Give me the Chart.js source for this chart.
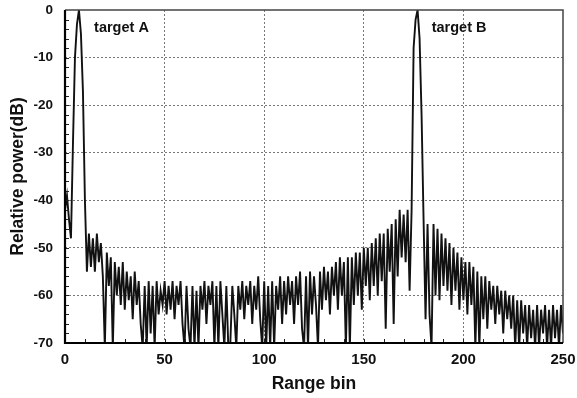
<!DOCTYPE html>
<html>
<head>
<meta charset="utf-8">
<script src="https://cdn.jsdelivr.net/npm/chart.js@4"></script>
<style>
  html, body { margin: 0; padding: 0; background: #fff; }
  #wrap { width: 577px; height: 398px; position: relative; }
</style>
</head>
<body>
<div id="wrap"><canvas id="c" width="577" height="398"></canvas></div>
<script>
// Relative power (dB) per range bin, bins 0..250
const powerDb = [
  -42, -39, -44, -48, -28, -10, -3, 0, -5, -17,
  -40, -55, -47, -54, -48, -55, -47, -53, -49, -56,
  -71, -51, -58, -52, -71, -53, -60, -54, -62, -53,
  -63, -55, -61, -56, -65, -55, -62, -57, -66, -71,
  -58, -71, -57, -68, -58, -71, -57, -64, -59, -62,
  -57, -64, -58, -63, -57, -65, -58, -62, -57, -66,
  -71, -58, -67, -71, -58, -71, -59, -71, -58, -63,
  -57, -66, -58, -62, -57, -71, -58, -71, -57, -64,
  -71, -58, -71, -70, -58, -64, -71, -58, -63, -57,
  -65, -58, -62, -57, -66, -58, -63, -56, -65, -71,
  -57, -71, -58, -71, -57, -71, -58, -63, -56, -66,
  -57, -64, -56, -62, -57, -66, -56, -62, -55, -67,
  -71, -56, -71, -55, -64, -56, -62, -71, -55, -63,
  -54, -61, -55, -64, -54, -60, -53, -63, -52, -60,
  -53, -71, -52, -71, -52, -62, -51, -60, -51, -63,
  -50, -58, -50, -61, -49, -58, -48, -60, -47, -57,
  -47, -67, -46, -55, -45, -66, -44, -56, -42, -52,
  -43, -53, -42, -59, -42, -8, -2, 0, -6, -22,
  -44, -65, -45, -64, -71, -45, -60, -46, -61, -47,
  -58, -48, -59, -49, -62, -50, -59, -51, -63, -52,
  -61, -53, -64, -53, -62, -54, -71, -55, -71, -56,
  -65, -56, -67, -57, -63, -58, -66, -58, -64, -59,
  -68, -59, -65, -60, -67, -60, -71, -61, -71, -61,
  -68, -62, -71, -62, -69, -63, -71, -62, -71, -63,
  -68, -62, -71, -63, -71, -62, -69, -63, -71, -62,
  -68
];
const xTickValues = [0, 50, 100, 150, 200, 250];
const yTickValues = [0, -10, -20, -30, -40, -50, -60, -70];
const annotations = [
  { text: 'target A', bin: 14.6, db: -3.7 },
  { text: 'target B', bin: 184.1, db: -3.7 }
];

const points = powerDb.map((v, i) => ({ x: i, y: v }));

const framePlugin = {
  id: 'frame',
  afterDatasetsDraw(chart) {
    const { ctx, chartArea: a, scales } = chart;
    const xs = scales.x, ys = scales.y;
    ctx.save();
    ctx.strokeStyle = '#222';
    ctx.lineWidth = 1;
    ctx.beginPath();
    for (let v = -68; v < 0; v += 2) {
      const py = Math.round(ys.getPixelForValue(v)) + 0.5;
      ctx.moveTo(a.left, py);
      ctx.lineTo(a.left + 4, py);
    }
    for (let v = 10; v < 250; v += 10) {
      const px = Math.round(xs.getPixelForValue(v)) + 0.5;
      ctx.moveTo(px, a.bottom);
      ctx.lineTo(px, a.bottom - 4);
    }
    ctx.stroke();
    ctx.strokeStyle = '#444';
    ctx.lineWidth = 1.5;
    ctx.beginPath();
    ctx.moveTo(a.left, a.top);
    ctx.lineTo(a.right, a.top);
    ctx.lineTo(a.right, a.bottom);
    ctx.stroke();
    ctx.strokeStyle = '#000';
    ctx.lineWidth = 2.2;
    ctx.beginPath();
    ctx.moveTo(a.left, a.top);
    ctx.lineTo(a.left, a.bottom);
    ctx.lineTo(a.right, a.bottom);
    ctx.stroke();
    ctx.fillStyle = '#111';
    ctx.font = 'bold 14.5px "Liberation Sans", Arial, sans-serif';
    ctx.textBaseline = 'middle';
    ctx.textAlign = 'left';
    annotations.forEach(an => {
      ctx.fillText(an.text, xs.getPixelForValue(an.bin), ys.getPixelForValue(an.db));
    });
    ctx.restore();
  }
};

new Chart(document.getElementById('c'), {
  type: 'line',
  data: {
    datasets: [{
      data: points,
      borderColor: '#111',
      borderWidth: 1.9,
      pointRadius: 0,
      tension: 0,
      fill: false
    }]
  },
  options: {
    responsive: false,
    animation: false,
    events: [],
    layout: { padding: { left: 0, right: 14, top: 10, bottom: 0 } },
    plugins: { legend: { display: false }, tooltip: { enabled: false } },
    scales: {
      x: {
        type: 'linear',
        min: 0, max: 250,
        afterBuildTicks: s => { s.ticks = xTickValues.map(v => ({ value: v })); },
        afterFit: s => { s.height = 55; s.paddingLeft = 0; s.paddingRight = 0; },
        ticks: {
          color: '#111',
          padding: 8,
          font: { family: '"Liberation Sans", Arial, sans-serif', size: 15, weight: 'bold' },
          maxRotation: 0
        },
        grid: {
          drawTicks: false,
          color: c => (c.tick && (c.tick.value === 0 || c.tick.value === 250)) ? 'rgba(0,0,0,0)' : '#777',
          lineWidth: 1
        },
        border: { display: false, dash: [2, 2] },
        title: {
          display: true,
          text: 'Range bin',
          color: '#111',
          padding: { top: 0, bottom: 3 },
          font: { family: '"Liberation Sans", Arial, sans-serif', size: 17.5, weight: 'bold' }
        }
      },
      y: {
        type: 'linear',
        min: -70, max: 0,
        afterBuildTicks: s => { s.ticks = yTickValues.map(v => ({ value: v })); },
        afterFit: s => { s.width = 65; s.paddingTop = 0; s.paddingBottom = 0; },
        ticks: {
          color: '#111',
          padding: 12,
          font: { family: '"Liberation Sans", Arial, sans-serif', size: 13.5, weight: 'bold' }
        },
        grid: {
          drawTicks: false,
          color: c => (c.tick && (c.tick.value === 0 || c.tick.value === -70)) ? 'rgba(0,0,0,0)' : '#777',
          lineWidth: 1
        },
        border: { display: false, dash: [2, 2] },
        title: {
          display: true,
          text: 'Relative power(dB)',
          color: '#111',
          padding: { top: 8, bottom: 0 },
          font: { family: '"Liberation Sans", Arial, sans-serif', size: 17.5, weight: 'bold' }
        }
      }
    }
  },
  plugins: [framePlugin]
});
</script>
</body>
</html>
